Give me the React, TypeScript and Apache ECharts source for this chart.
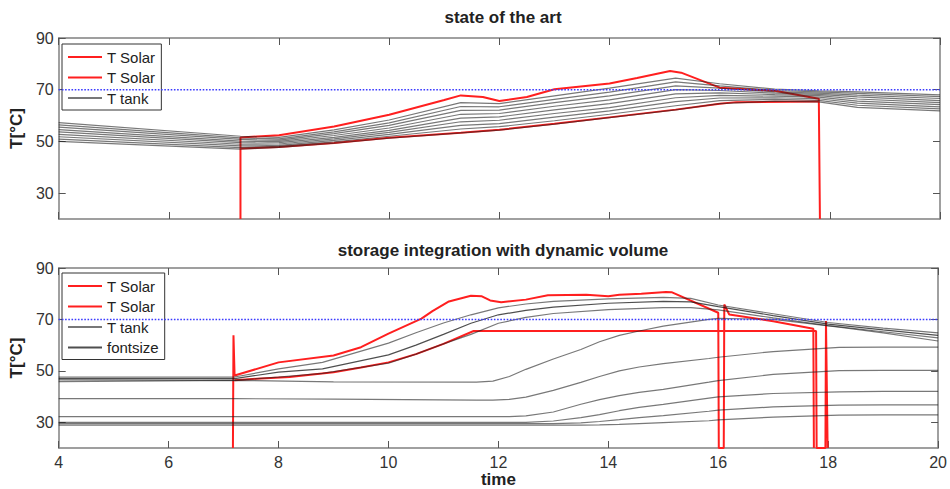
import React, { useEffect, useRef } from "react";
import * as echarts from "echarts";

// ---------- axis ticks ----------
const timeMin = 4;
const timeMax = 20;
const timeStep = 2;
const tempMin = 20;
const tempMax = 90;
const tempTicks = [30, 50, 70, 90];
const setPoint = 70;

// ---------- top panel: state of the art ----------
const topSolarOutTime = [7.3, 7.3, 7.6, 8, 9, 10, 11, 11.3, 11.7, 12, 12.5, 13, 14, 14.5, 15.1, 15.3, 16, 17, 17.8, 17.82];
const topSolarOutTemp = [20, 51.5, 51.9, 52.4, 55.8, 60.3, 66, 67.8, 67.2, 65.6, 67.2, 70.2, 72.4, 74.5, 77.2, 76.6, 70.8, 69.6, 66.5, 20];
const topSolarInTime = [7.3, 8, 9, 10, 11.3, 12, 13, 14, 15.2, 16, 16.3, 17.8];
const topSolarInTemp = [47.3, 47.8, 49.4, 51.4, 53.4, 54.5, 56.8, 59.3, 62.3, 64.6, 65.2, 65.4];

const topTankTime = [4, 7.3, 7.6, 8, 9, 10, 11.3, 12, 13, 14, 15.2, 16, 17, 17.8, 18.5, 20];
const topLayer1 = [57.3, 52.0, 51.8, 51.6, 54.5, 58.3, 65.0, 64.6, 67.6, 70.6, 74.5, 72.3, 70.2, 69.6, 69.2, 68.0];
const topLayer2 = [56.4, 51.4, 51.2, 51.0, 53.7, 57.2, 63.5, 63.4, 66.3, 69.1, 73.0, 71.5, 69.7, 69.2, 68.6, 67.3];
const topLayer3 = [55.5, 50.8, 50.6, 50.5, 53.0, 56.2, 62.0, 62.1, 65.0, 67.6, 71.5, 70.6, 69.2, 68.7, 67.9, 66.6];
const topLayer4 = [54.6, 50.1, 50.0, 50.0, 52.3, 55.2, 60.5, 60.8, 63.6, 66.1, 70.0, 69.7, 68.7, 68.2, 67.2, 65.8];
const topLayer5 = [53.7, 49.5, 49.4, 49.5, 51.6, 54.3, 59.0, 59.5, 62.2, 64.6, 68.4, 68.8, 68.1, 67.7, 66.4, 65.0];
const topLayer6 = [52.7, 48.9, 48.9, 49.0, 51.0, 53.5, 57.6, 58.2, 60.8, 63.1, 66.9, 67.8, 67.5, 67.1, 65.6, 64.2];
const topLayer7 = [51.8, 48.3, 48.3, 48.5, 50.4, 52.7, 56.2, 56.9, 59.4, 61.8, 65.4, 66.8, 66.9, 66.5, 64.8, 63.4];
const topLayer8 = [50.9, 47.6, 47.8, 48.1, 49.8, 52.0, 54.8, 55.7, 58.0, 60.5, 63.8, 65.8, 66.3, 65.9, 64.0, 62.6];
const topLayer9 = [50.0, 47.0, 47.3, 47.7, 49.3, 51.3, 53.3, 54.4, 56.7, 59.2, 62.2, 64.6, 65.6, 65.3, 63.2, 61.8];
const topLayers = [topLayer1, topLayer2, topLayer3, topLayer4, topLayer5, topLayer6, topLayer7, topLayer8, topLayer9];

// ---------- bottom panel: storage integration with dynamic volume ----------
const botSolarOutTime = [7.17, 7.18, 7.2, 8, 9, 9.5, 10, 10.6, 10.8, 11.1, 11.5, 11.7, 11.85, 12.05, 12.5, 12.9, 13.6, 14, 14.2, 14.6, 15.05, 15.15, 16.0, 16.01, 16.1, 16.11, 16.2, 17, 17.73, 17.74];
const botSolarOutTemp = [20, 63.8, 48.2, 53.3, 56, 59.2, 64.5, 70.3, 73.2, 77, 79.2, 79, 77.4, 76.7, 77.7, 79.4, 79.6, 79, 79.6, 80, 80.7, 80.6, 72.6, 20, 20, 75.8, 71.9, 69.3, 66.4, 20];
const botSolarInTime = [7.2, 7.6, 8.2, 9, 9.5, 10, 10.5, 11, 11.55, 17.78, 17.79, 17.95, 17.96, 17.99];
const botSolarInTemp = [46.3, 46.9, 47.6, 49.5, 51.3, 53.3, 56.5, 60.5, 65.5, 65.5, 20, 20, 69.4, 20];

const botUpperTime = [4, 7.2, 8, 8.8, 10, 10.5, 11, 11.5, 12, 12.5, 13, 14, 15, 15.5, 16, 17, 18, 19, 20];
const botUpper1 = [47.6, 47.6, 50.8, 53.3, 60.8, 64.8, 68.6, 71.8, 74.5, 76.0, 77.0, 78.0, 78.6, 78.2, 75.6, 72.2, 68.8, 66.6, 64.8];
const botUpper2 = [47.0, 47.0, 49.5, 50.8, 56.2, 60.0, 64.2, 68.5, 71.8, 73.5, 74.8, 76.3, 77.0, 76.8, 75.0, 71.5, 68.2, 65.9, 63.8];
const botUpper3 = [46.5, 46.3, 47.6, 49.0, 53.0, 56.5, 60.5, 64.2, 68.5, 70.8, 72.3, 73.8, 74.6, 74.6, 73.7, 70.6, 67.6, 65.2, 62.8];

const botLowerTime = [4, 7.2, 9, 11.6, 11.9, 12.2, 12.5, 13, 13.5, 13.84, 14.2, 14.56, 15, 15.83, 16, 17, 18.2, 19, 20];
const botLower1 = [45.8, 46.3, 45.7, 45.6, 46.0, 47.8, 50.6, 54.6, 58.3, 61.3, 63.8, 65.5, 67.4, 70.0, 70.4, 70.0, 67.0, 64.8, 61.6];
const botLower2 = [39.2, 39.2, 39.0, 38.6, 38.6, 38.9, 39.8, 42.4, 45.5, 47.8, 50.0, 51.5, 52.8, 54.8, 55.3, 57.5, 59.1, 59.2, 59.2];
const botLower3 = [32.2, 32.2, 32.2, 32.2, 32.2, 32.2, 32.5, 34.0, 37.0, 38.8, 40.4, 41.6, 42.8, 45.6, 46.2, 48.6, 50.1, 50.2, 50.2];
const botLower4 = [30.0, 30.0, 30.0, 30.0, 30.0, 30.0, 30.0, 30.5, 31.8, 33.0, 34.5, 35.8, 37.0, 39.4, 39.9, 41.2, 41.8, 42.0, 42.0];
const botLower5 = [29.5, 29.5, 29.5, 29.5, 29.5, 29.5, 29.5, 29.5, 29.8, 30.3, 31.0, 31.8, 32.6, 34.3, 34.7, 36.0, 36.7, 36.8, 36.8];
const botLower6 = [28.9, 28.9, 28.9, 28.9, 28.9, 28.9, 28.9, 28.9, 28.9, 29.0, 29.2, 29.5, 29.9, 30.6, 30.9, 32.0, 32.8, 32.9, 32.9];
const botLowers = [botLower1, botLower2, botLower3, botLower4, botLower5, botLower6];

const titles = ["state of the art", "storage integration with dynamic volume"];
const yName = "T[°C]";
const xName = "time";

// ---------- styles ----------
const FONT = "'Liberation Sans', Arial, sans-serif";
const RED = "#ff1f1f";
const TANK = "rgba(30,30,30,0.6)";
const TANK_DARK = "rgba(20,20,20,0.75)";
const BLUE = "#3a3aff";
const FRAME = "#808080";

const pairs = (t: number[], v: number[]) => t.map((x, i) => [x, v[i]]);

function line(name: string, data: number[][], axis: number, color: string, width: number, z = 2) {
  return {
    type: "line",
    name,
    data,
    xAxisIndex: axis,
    yAxisIndex: axis,
    symbol: "none",
    showSymbol: false,
    silent: true,
    z,
    lineStyle: { color, width },
    itemStyle: { color },
  };
}

function blueLine(axis: number) {
  return {
    type: "line",
    name: "setpoint" + axis,
    data: [
      [timeMin, setPoint],
      [timeMax, setPoint],
    ],
    xAxisIndex: axis,
    yAxisIndex: axis,
    symbol: "none",
    silent: true,
    z: 4,
    lineStyle: { color: BLUE, width: 1.6, type: [1.6, 1.6] },
    itemStyle: { color: BLUE },
  };
}

function xAxes(grid: number, labels: boolean) {
  const base = {
    type: "value",
    gridIndex: grid,
    min: timeMin,
    max: timeMax,
    interval: timeStep,
    splitLine: { show: false },
    axisLine: { show: true, onZero: false, lineStyle: { color: FRAME, width: 1.5 } },
    axisTick: { show: true, inside: true, length: 7, lineStyle: { color: "#555", width: 1 } },
  };
  return [
    {
      ...base,
      position: "bottom",
      axisLabel: {
        show: labels,
        margin: 6,
        color: "#333",
        fontSize: 16,
        fontFamily: FONT,
      },
      name: labels ? xName : "",
      nameLocation: "middle",
      nameGap: 23,
      nameTextStyle: { fontSize: 17, fontWeight: "bold", color: "#222", fontFamily: FONT },
    },
    { ...base, position: "top", axisLabel: { show: false } },
  ];
}

function yAxes(grid: number) {
  const base = {
    type: "value",
    gridIndex: grid,
    min: tempMin,
    max: tempMax,
    splitLine: { show: false },
    axisLine: { show: true, onZero: false, lineStyle: { color: FRAME, width: 1.5 } },
    axisTick: { show: true, inside: true, length: 7, customValues: tempTicks, lineStyle: { color: "#555", width: 1 } },
  };
  return [
    {
      ...base,
      position: "left",
      axisLabel: {
        show: true,
        customValues: tempTicks,
        margin: 5,
        color: "#333",
        fontSize: 16,
        fontFamily: FONT,
      },
      name: yName,
      nameLocation: "middle",
      nameRotate: 90,
      nameGap: 28,
      nameTextStyle: { fontSize: 17, fontWeight: "bold", color: "#222", fontFamily: FONT },
    },
    { ...base, position: "right", axisLabel: { show: false } },
  ];
}

function legend(top: number, names: string[]) {
  return {
    data: names,
    orient: "vertical",
    left: 62,
    top,
    selectedMode: false,
    backgroundColor: "#fff",
    borderColor: "#333",
    borderWidth: 1,
    padding: [5, 6, 4, 6],
    itemGap: 4.5,
    itemWidth: 34,
    itemHeight: 2,
    icon: "rect",
    formatter: (n: string) => n.split("#")[0],
    textStyle: { fontSize: 15, color: "#222", fontFamily: FONT, lineHeight: 16 },
  };
}

export default function App() {
  const ref = useRef<HTMLDivElement>(null);

  useEffect(() => {
    if (!ref.current) return;
    const chart = echarts.init(ref.current, undefined, { renderer: "svg" });

    const series: any[] = [];
    // top panel
    series.push(line("T Solar#1", pairs(topSolarOutTime, topSolarOutTemp), 0, RED, 2));
    series.push(line("T Solar#2", pairs(topSolarInTime, topSolarInTemp), 0, RED, 2));
    topLayers.forEach((layer, i) => {
      series.push(line(i === 0 ? "T tank#1" : "top layer " + (i + 1), pairs(topTankTime, layer), 0, TANK, 1.2, 3));
    });
    series.push(blueLine(0));
    // bottom panel
    series.push(line("T Solar#3", pairs(botSolarOutTime, botSolarOutTemp), 2, RED, 2));
    series.push(line("T Solar#4", pairs(botSolarInTime, botSolarInTemp), 2, RED, 2));
    series.push(line("T tank#2", pairs(botUpperTime, botUpper1), 2, TANK, 1.2, 3));
    series.push(line("fontsize#1", pairs(botUpperTime, botUpper2), 2, TANK_DARK, 1.2, 3));
    series.push(line("upper layer 3", pairs(botUpperTime, botUpper3), 2, TANK, 1.2, 3));
    botLowers.forEach((layer, i) => {
      series.push(line("lower layer " + (i + 1), pairs(botLowerTime, layer), 2, TANK, 1.2, 3));
    });
    series.push(blueLine(2));

    chart.setOption({
      animation: false,
      backgroundColor: "#fff",
      title: [
        {
          text: titles[0],
          left: 498,
          top: 4,
          textAlign: "center",
          textStyle: { fontSize: 17, fontWeight: "bold", color: "#222", fontFamily: FONT },
        },
        {
          text: titles[1],
          left: 498,
          top: 237,
          textAlign: "center",
          textStyle: { fontSize: 17, fontWeight: "bold", color: "#222", fontFamily: FONT },
        },
      ],
      legend: [
        legend(44, ["T Solar#1", "T Solar#2", "T tank#1"]),
        legend(273, ["T Solar#3", "T Solar#4", "T tank#2", "fontsize#1"]),
      ],
      grid: [
        { left: 57, right: 10, top: 38, height: 181 },
        { left: 57, right: 10, top: 268, height: 181 },
      ],
      xAxis: [...xAxes(0, false), ...xAxes(1, true)],
      yAxis: [...yAxes(0), ...yAxes(1)],
      series,
    });

    return () => chart.dispose();
  }, []);

  return (
    <div
      ref={ref}
      style={{ position: "fixed", left: 0, top: 0, width: 950, height: 489, background: "#fff" }}
    />
  );
}
